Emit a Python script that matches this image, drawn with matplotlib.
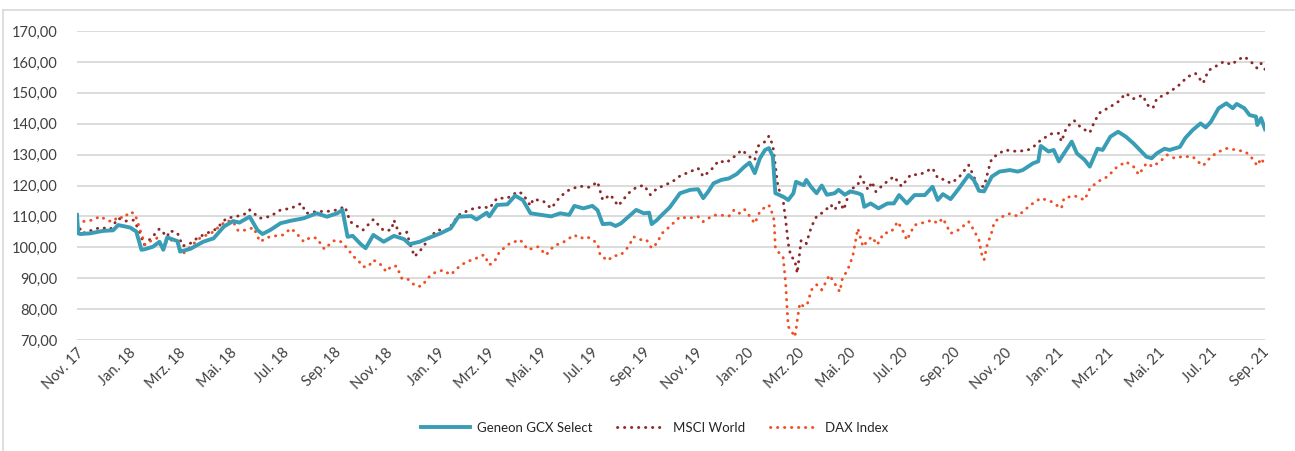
import matplotlib.pyplot as plt
from matplotlib.lines import Line2D
from matplotlib.ticker import FuncFormatter
import pandas as pd
import numpy as np

plt.rcParams['font.family'] = ['Lato', 'DejaVu Sans']

# Werte in Monaten ab 01.11.2017 (x) und Indexstand (y)
gcx_m = [0, 0.05, 0.13, 0.5, 1.0, 1.4, 1.6, 2.06, 2.3, 2.5, 2.64, 2.95, 3.2, 3.35, 3.5, 3.9, 4.0,
         4.4, 4.9, 5.3, 5.7, 6.06, 6.3, 6.7, 7.0, 7.2, 7.5, 7.9, 8.3, 8.8, 9.3, 9.7, 10.1, 10.3,
         10.5, 10.7, 11.0, 11.2, 11.5, 11.9, 12.3, 12.7, 12.9, 13.3, 13.7, 14.1, 14.5, 14.8, 15.3,
         15.5, 15.9, 16.0, 16.3, 16.7, 17.0, 17.3, 17.6, 18.0, 18.4, 18.75, 19.1, 19.3, 19.65,
         20.0, 20.2, 20.4, 20.7, 20.9, 21.1, 21.4, 21.7, 22.0, 22.2, 22.3, 22.5, 22.7, 23.0, 23.4,
         23.8, 24.1, 24.3, 24.5, 24.7, 25.0, 25.3, 25.6, 25.9, 26.1, 26.3, 26.5, 26.7, 26.85,
         27.0, 27.1, 27.4, 27.6, 27.8, 27.9, 28.2, 28.3, 28.5, 28.7, 28.9, 29.1, 29.4, 29.55,
         29.8, 30.0, 30.3, 30.45, 30.55, 30.8, 31.1, 31.45, 31.7, 31.9, 32.2, 32.5, 32.9, 33.2,
         33.4, 33.6, 33.9, 34.2, 34.6, 34.8, 35.0, 35.2, 35.5, 35.8, 36.2, 36.5, 36.7, 37.1,
         37.3, 37.4, 37.7, 37.9, 38.1, 38.3, 38.6, 38.8, 39.1, 39.3, 39.6, 39.8, 40.1, 40.4,
         40.7, 41.0, 41.2, 41.5, 41.7, 41.9, 42.2, 42.4, 42.8, 43.0, 43.3, 43.6, 43.8, 44.0,
         44.3, 44.6, 44.85, 45.0, 45.3, 45.5, 45.75, 45.8, 45.95, 46.1]
gcx_v = [110.5, 104.5, 104.3, 104.5, 105.3, 105.5, 107.2, 106.4, 105.1, 99.2, 99.4, 100.2, 101.8,
         99.2, 103.2, 102.0, 98.6, 99.5, 101.8, 102.9, 106.7, 108.5, 108.0, 109.9, 105.6, 104.3,
         105.6, 107.8, 108.6, 109.4, 111.0, 109.9, 111.0, 112.1, 103.4, 103.7, 101.1, 99.7,
         104.0, 101.8, 103.7, 102.6, 101.0, 101.8, 103.2, 104.5, 106.1, 109.9, 110.1, 109.0,
         111.2, 110.0, 113.7, 113.9, 116.7, 115.3, 111.0, 110.5, 110.0, 111.0, 110.5, 113.4,
         112.6, 113.4, 112.0, 107.5, 107.7, 106.9, 107.7, 109.9, 112.1, 111.0, 111.2, 107.5,
         108.8, 110.5, 112.9, 117.5, 118.6, 118.8, 115.9, 118.1, 120.7, 121.8, 122.3, 123.7,
         126.1, 127.4, 124.0, 128.8, 131.5, 132.1, 129.5, 117.5, 116.4, 115.3, 117.5, 121.2,
         120.1, 121.8, 119.4, 117.5, 120.0, 117.0, 117.5, 118.6, 117.0, 118.1, 117.5, 117.0,
         113.1, 114.2, 112.6, 114.2, 114.2, 116.9, 114.2, 116.9, 116.9, 119.6, 115.3, 117.2,
         115.6, 118.8, 123.4, 121.8, 118.3, 118.1, 122.9, 124.5, 125.0, 124.5, 125.0, 127.2,
         127.8, 132.8, 131.0, 131.5, 127.8, 130.4, 134.2, 130.4, 128.3, 126.1, 131.9, 131.5,
         135.8, 137.4, 135.8, 133.6, 131.9, 129.3, 128.8, 130.4, 131.9, 131.5, 132.5, 135.3,
         138.0, 140.1, 138.8, 140.6, 145.0, 146.6, 145.0, 146.4, 145.0, 142.8, 142.3, 139.6,
         141.8, 138.2]

msci_m = [0, 0.2, 0.6, 0.9, 1.3, 1.6, 1.9, 2.2, 2.4, 2.6, 2.9, 3.2, 3.5, 3.6, 3.9, 4.1, 4.4, 4.7,
          5.0, 5.4, 5.8, 6.2, 6.6, 6.7, 7.1, 7.5, 7.9, 8.3, 8.7, 8.9, 9.3, 9.7, 10.1, 10.4, 10.6,
          10.9, 11.1, 11.5, 11.9, 12.2, 12.3, 12.5, 12.8, 12.9, 13.1, 13.4, 13.7, 14.0, 14.4,
          14.8, 15.1, 15.4, 15.8, 16.0, 16.3, 16.7, 17.1, 17.3, 17.6, 17.7, 18.1, 18.4, 18.75,
          19.1, 19.5, 19.9, 20.2, 20.4, 20.7, 21.0, 21.4, 21.7, 22.0, 22.25, 22.5, 22.8, 23.1,
          23.4, 23.8, 24.1, 24.3, 24.6, 24.9, 25.2, 25.5, 25.8, 26.1, 26.3, 26.4, 26.7, 26.85,
          27.0, 27.2, 27.4, 27.5, 27.6, 27.7, 27.85, 27.95, 28.1, 28.3, 28.5, 28.7, 29.0, 29.25,
          29.4, 29.6, 29.75, 30.0, 30.3, 30.4, 30.7, 30.85, 31.0, 31.3, 31.7, 32.0, 32.35, 32.7,
          33.2, 33.4, 33.7, 33.9, 34.2, 34.6, 34.8, 34.95, 35.2, 35.4, 35.5, 35.7, 36.0, 36.5,
          36.9, 37.1, 37.4, 37.8, 38.1, 38.2, 38.4, 38.7, 38.95, 39.3, 39.5, 39.7, 40.1, 40.4,
          40.7, 41.0, 41.35, 41.55, 41.75, 41.9, 42.3, 42.7, 43.1, 43.4, 43.7, 43.9, 44.3, 44.5,
          44.8, 45.05, 45.3, 45.55, 45.8, 45.95, 46.1]
msci_v = [108.0, 104.5, 105.6, 106.4, 105.9, 109.4, 108.5, 108.8, 105.6, 100.8, 103.1, 106.0,
          103.4, 105.4, 104.6, 100.4, 101.3, 103.2, 104.4, 105.9, 109.4, 110.0, 111.0, 112.1,
          109.4, 110.0, 112.1, 112.6, 114.2, 111.0, 111.6, 111.6, 112.1, 113.2, 108.3, 106.7,
          105.6, 109.0, 105.4, 105.6, 108.8, 104.4, 104.9, 101.6, 97.0, 99.7, 103.4, 105.6,
          105.6, 110.4, 111.6, 112.6, 113.1, 112.6, 115.9, 115.9, 118.0, 117.3, 113.4, 115.6,
          114.9, 112.6, 116.4, 118.6, 119.8, 119.4, 121.2, 115.3, 117.0, 113.4, 117.5, 119.4,
          120.1, 117.0, 119.0, 120.1, 121.2, 123.1, 124.5, 125.6, 122.9, 125.0, 128.0, 127.4,
          129.3, 131.5, 129.3, 128.2, 132.6, 134.2, 136.0, 133.1, 119.6, 115.3, 108.8, 101.2,
          97.0, 96.0, 91.6, 102.3, 101.2, 106.7, 110.0, 111.6, 113.8, 112.1, 114.8, 112.1,
          118.6, 120.1, 122.9, 118.6, 121.2, 118.0, 120.4, 122.9, 119.7, 123.5, 123.5, 125.6,
          122.4, 121.8, 120.7, 122.4, 126.6, 122.9, 119.7, 119.7, 126.1, 128.8, 129.9, 131.5,
          131.0, 131.5, 132.4, 134.7, 136.7, 136.9, 134.2, 138.8, 141.0, 138.8, 137.1, 141.0,
          143.6, 145.5, 147.1, 149.8, 148.1, 149.2, 146.0, 145.0, 148.1, 149.8, 152.0, 155.2,
          156.3, 153.1, 157.2, 159.1, 160.1, 159.1, 160.7, 161.7, 160.1, 157.9, 159.5, 157.6]

dax_m = [0, 0.2, 0.6, 0.9, 1.2, 1.4, 1.6, 1.8, 2.06, 2.25, 2.45, 2.64, 2.8, 3.1, 3.3, 3.5, 3.7,
         3.9, 4.1, 4.4, 4.8, 5.2, 5.55, 5.8, 6.06, 6.25, 6.6, 6.85, 7.1, 7.4, 7.6, 8.0, 8.3, 8.5,
         8.8, 9.05, 9.3, 9.6, 9.95, 10.2, 10.5, 10.7, 10.9, 11.1, 11.3, 11.5, 11.8, 12.0, 12.2,
         12.4, 12.6, 12.8, 13.0, 13.2, 13.4, 13.6, 13.9, 14.2, 14.5, 14.8, 15.1, 15.4, 15.8,
         16.0, 16.2, 16.4, 16.8, 17.2, 17.5, 17.9, 18.2, 18.5, 18.9, 19.3, 19.5, 19.8, 20.2,
         20.3, 20.6, 20.8, 21.1, 21.4, 21.6, 21.9, 22.1, 22.3, 22.5, 22.7, 23.0, 23.4, 23.7,
         24.1, 24.3, 24.7, 25.0, 25.3, 25.5, 25.7, 25.9, 26.1, 26.3, 26.5, 26.8, 26.9, 27.05,
         27.1, 27.2, 27.4, 27.5, 27.55, 27.6, 27.7, 27.85, 27.9, 27.95, 28.05, 28.2, 28.35,
         28.5, 28.7, 28.9, 29.2, 29.4, 29.6, 29.7, 29.9, 30.1, 30.3, 30.5, 30.7, 30.85, 31.05,
         31.3, 31.6, 31.85, 32.1, 32.2, 32.5, 32.85, 33.2, 33.4, 33.6, 33.9, 34.2, 34.6, 34.8,
         35.0, 35.1, 35.2, 35.3, 35.5, 35.6, 35.9, 36.2, 36.5, 36.7, 37.0, 37.4, 37.8, 38.2,
         38.3, 38.7, 39.1, 39.3, 39.6, 40.0, 40.3, 40.7, 41.0, 41.2, 41.5, 41.75, 42.1, 42.3,
         42.6, 42.9, 43.3, 43.5, 43.7, 44.0, 44.3, 44.6, 45.0, 45.35, 45.6, 45.8, 45.95, 46.1]
dax_v = [107.8, 108.3, 108.8, 110.0, 108.6, 108.3, 110.0, 109.4, 111.5, 110.8, 105.6, 100.8,
         101.8, 103.0, 99.2, 102.3, 102.3, 101.3, 97.8, 100.2, 103.2, 104.5, 106.9, 108.6,
         108.3, 105.4, 105.6, 106.4, 101.8, 103.2, 103.6, 104.0, 106.1, 104.7, 101.8, 103.2,
         103.0, 99.4, 102.1, 102.1, 99.6, 97.2, 95.9, 93.7, 93.7, 95.9, 94.3, 92.1, 93.9, 93.9,
         90.0, 90.0, 88.4, 87.3, 87.5, 90.0, 91.9, 92.6, 91.1, 93.5, 95.3, 96.1, 97.6, 94.3,
         95.4, 98.6, 101.3, 102.4, 99.2, 100.2, 97.5, 100.4, 101.8, 104.0, 102.9, 103.4, 101.3,
         97.5, 95.7, 97.2, 97.5, 100.2, 103.4, 102.4, 102.4, 99.7, 101.3, 104.5, 106.7, 109.9,
         109.4, 109.9, 108.3, 110.4, 110.4, 110.1, 112.1, 111.0, 112.3, 110.1, 107.7, 111.6,
         113.7, 113.2, 108.8, 99.7, 98.6, 96.9, 88.3, 80.8, 74.3, 73.3, 71.0, 73.3, 76.5, 81.9,
         80.8, 81.9, 86.2, 87.9, 86.2, 91.0, 88.3, 85.6, 89.9, 92.6, 97.0, 106.1, 100.2, 102.4,
         103.4, 100.8, 104.5, 105.0, 108.3, 104.5, 102.3, 107.2, 108.0, 108.8, 107.7, 109.4,
         104.5, 105.6, 108.3, 105.6, 102.3, 98.0, 95.9, 100.2, 105.0, 108.3, 109.9, 110.9,
         110.1, 111.5, 113.7, 115.9, 114.8, 112.6, 115.9, 116.7, 115.3, 119.0, 121.2, 122.9,
         125.6, 127.7, 126.1, 123.5, 127.2, 126.1, 128.3, 129.9, 128.8, 129.4, 129.3, 127.7,
         126.4, 129.3, 130.9, 132.0, 131.5, 130.9, 128.8, 126.4, 128.8, 126.6]

tick_labels = ["Nov. 17", "Jan. 18", "Mrz. 18", "Mai. 18", "Jul. 18", "Sep. 18",
               "Nov. 18", "Jan. 19", "Mrz. 19", "Mai. 19", "Jul. 19", "Sep. 19",
               "Nov. 19", "Jan. 20", "Mrz. 20", "Mai. 20", "Jul. 20", "Sep. 20",
               "Nov. 20", "Jan. 21", "Mrz. 21", "Mai. 21", "Jul. 21", "Sep. 21"]

start = pd.Timestamp("2017-11-01")
def to_dates(months):
    return start + pd.to_timedelta(np.array(months) * 30.44, unit="D")

teal = "#3a9db6"
msci_col = "#8b2a2a"
dax_col = "#f04e23"
text_col = "#404040"

fig = plt.figure(figsize=(12.95, 4.51), dpi=100)
ax = fig.add_axes([77 / 1295, 1 - 340 / 451, (1265 - 77) / 1295, (340 - 31) / 451])

ax.plot(to_dates(gcx_m), gcx_v, color=teal, lw=2.8, solid_joinstyle="round",
        label="Geneon GCX Select", zorder=3)
ax.plot(to_dates(msci_m), msci_v, color=msci_col, lw=2.1, linestyle=(0, (0.1, 2.3)),
        dash_capstyle="round", label="MSCI World", zorder=2)
ax.plot(to_dates(dax_m), dax_v, color=dax_col, lw=2.1, linestyle=(0, (0.1, 2.3)),
        dash_capstyle="round", label="DAX Index", zorder=2)

ticks = pd.date_range("2017-11-01", periods=len(tick_labels), freq="2MS")
ax.set_xticks(ticks)
ax.set_xticklabels(tick_labels, rotation=45, ha="right", rotation_mode="anchor",
                   fontsize=10.5, color=text_col)
ax.set_xlim(start, start + pd.Timedelta(days=46.1 * 30.44))
ax.set_ylim(70, 170)
ax.set_yticks(np.arange(70, 171, 10))
ax.yaxis.set_major_formatter(FuncFormatter(lambda v, p: f"{v:.2f}".replace(".", ",")))
ax.tick_params(axis="y", labelsize=10.5, labelcolor=text_col, length=0, pad=14)
ax.tick_params(axis="x", length=0, pad=4)
ax.grid(axis="y", color="#d9d9d9", lw=1.3)
ax.set_axisbelow(True)
for s in ax.spines.values():
    s.set_visible(False)

leg = fig.legend(loc="center", bbox_to_anchor=(655 / 1295, 1 - 428 / 451), ncol=3,
                 frameon=False, fontsize=9.5, handlelength=3.7, columnspacing=1.9,
                 handletextpad=0.5)
for t in leg.get_texts():
    t.set_color("#262626")

# Rahmen des Diagrammbereichs
fig.add_artist(Line2D([3 / 1295, 1], [1 - 10 / 451, 1 - 10 / 451], color="#d9d9d9", lw=1.2))
fig.add_artist(Line2D([3 / 1295, 3 / 1295], [0, 1 - 10 / 451], color="#d9d9d9", lw=1.2))

fig.savefig("out.png", dpi=100)
